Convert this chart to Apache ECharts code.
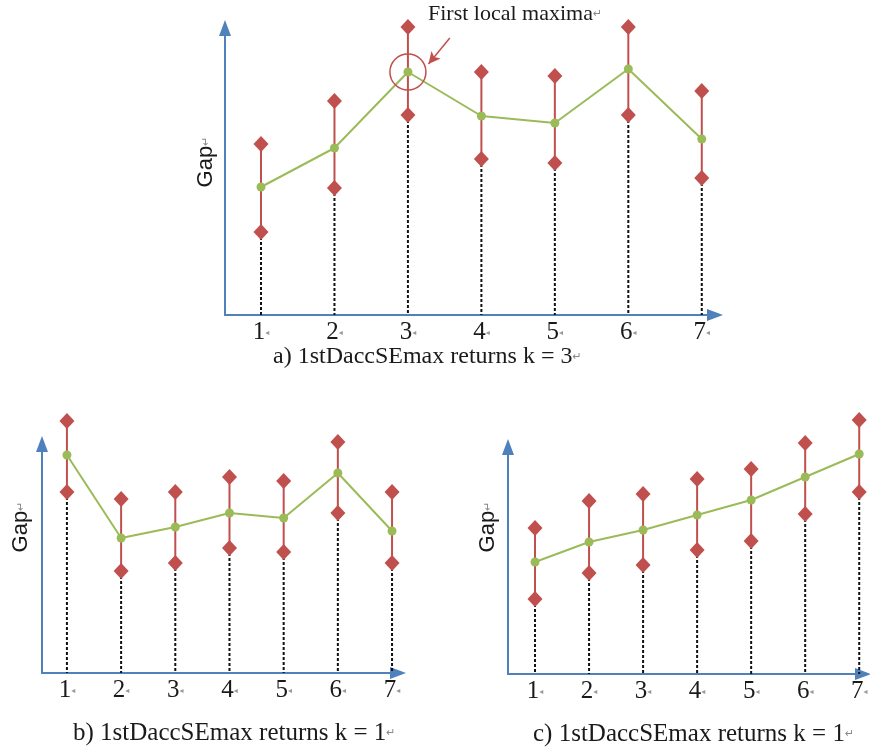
<!DOCTYPE html>
<html>
<head>
<meta charset="utf-8">
<script src="https://cdn.jsdelivr.net/npm/echarts@6/dist/echarts.min.js"></script>
<style>
html, body { margin: 0; padding: 0; background: #fff; }
#main { width: 870px; height: 747px; }
</style>
</head>
<body>
<div id="main"></div>
<script>
// k on the x axis
var kValues = [1, 2, 3, 4, 5, 6, 7];

// a) first local maximum at k = 3
var gapA = [1.28, 1.67, 2.43, 1.99, 1.92, 2.46, 1.76];
var upperA = [1.71, 2.14, 2.88, 2.43, 2.39, 2.88, 2.24];
var lowerA = [0.83, 1.27, 2.00, 1.56, 1.52, 2.00, 1.37];

// b) maximum at k = 1
var gapB = [2.18, 1.35, 1.46, 1.60, 1.55, 2.00, 1.42];
var upperB = [2.52, 1.74, 1.81, 1.96, 1.92, 2.31, 1.81];
var lowerB = [1.81, 1.02, 1.10, 1.25, 1.21, 1.60, 1.10];

// c) increasing gap
var gapC = [1.12, 1.32, 1.44, 1.59, 1.74, 1.97, 2.20];
var upperC = [1.46, 1.73, 1.80, 1.95, 2.05, 2.31, 2.54];
var lowerC = [0.75, 1.01, 1.09, 1.24, 1.33, 1.60, 1.82];

var captions = [
  "a) 1stDaccSEmax returns k = 3",
  "b) 1stDaccSEmax returns k = 1",
  "c) 1stDaccSEmax returns k = 1"
];
var noteText = "First local maxima";
// annotation arrow in data units of chart a
var arrowFrom = [3.57, 2.77];
var arrowTo = [3.28, 2.51];

var blue = "#4F81BD";
var red = "#C0504D";
var green = "#9BBB59";
var serif = "Liberation Serif";

var myChart = echarts.init(document.getElementById("main"));

function xAxisOf(idx, min, max) {
  return {
    type: "value",
    gridIndex: idx,
    min: min,
    max: max,
    splitLine: { show: false },
    axisTick: { show: false },
    axisLine: {
      onZero: false,
      lineStyle: { color: blue, width: 2 },
      symbol: ["none", "triangle"],
      symbolSize: [12, 16]
    },
    axisLabel: {
      customValues: kValues,
      formatter: function(v) {
        return v + "{m|◂}";
      },
      fontFamily: serif,
      fontSize: 25,
      color: "#1a1a1a",
      margin: 5,
      rich: { m: { fontSize: 8, color: "#999", fontFamily: "DejaVu Sans" } }
    }
  };
}

function yAxisOf(idx, max) {
  return {
    type: "value",
    gridIndex: idx,
    min: 0,
    max: max,
    splitLine: { show: false },
    axisTick: { show: false },
    axisLabel: { show: false },
    axisLine: {
      onZero: false,
      lineStyle: { color: blue, width: 2 },
      symbol: ["none", "triangle"],
      symbolSize: [12, 16]
    }
  };
}

function renderBar(params, api) {
  var x = api.value(0);
  var lo = api.coord([x, api.value(1)]);
  var hi = api.coord([x, api.value(2)]);
  var base = api.coord([x, 0]);
  return {
    type: "group",
    children: [
      {
        type: "line",
        shape: { x1: lo[0], y1: lo[1], x2: base[0], y2: base[1] },
        style: { stroke: "#111", lineWidth: 2, lineDash: [3, 2] }
      },
      {
        type: "line",
        shape: { x1: lo[0], y1: lo[1], x2: hi[0], y2: hi[1] },
        style: { stroke: red, lineWidth: 2 }
      }
    ]
  };
}

function seriesOf(idx, gap, upper, lower) {
  var bars = kValues.map(function(k, i) {
    return [k, lower[i], upper[i]];
  });
  var ends = [];
  kValues.forEach(function(k, i) {
    ends.push([k, upper[i]]);
    ends.push([k, lower[i]]);
  });
  return [
    {
      type: "custom",
      xAxisIndex: idx,
      yAxisIndex: idx,
      renderItem: renderBar,
      encode: { x: 0, y: [1, 2] },
      data: bars,
      silent: true
    },
    {
      type: "scatter",
      xAxisIndex: idx,
      yAxisIndex: idx,
      symbol: "diamond",
      symbolSize: [15, 16],
      clip: false,
      itemStyle: { color: red, opacity: 1 },
      data: ends
    },
    {
      type: "line",
      xAxisIndex: idx,
      yAxisIndex: idx,
      symbol: "circle",
      symbolSize: 9,
      clip: false,
      lineStyle: { color: green, width: 2 },
      itemStyle: { color: green },
      data: kValues.map(function(k, i) {
        return [k, gap[i]];
      })
    }
  ];
}

var series = []
  .concat(seriesOf(0, gapA, upperA, lowerA))
  .concat(seriesOf(1, gapB, upperB, lowerB))
  .concat(seriesOf(2, gapC, upperC, lowerC));

// circle and arrow pointing at the first local maximum of chart a
series[2].markPoint = {
  silent: true,
  symbol: "circle",
  symbolSize: 36,
  label: { show: false },
  itemStyle: { color: "rgba(0,0,0,0)", borderColor: red, borderWidth: 1.5 },
  data: [{ coord: [kValues[2], gapA[2]] }]
};
series[2].markLine = {
  silent: true,
  symbol: ["none", "arrow"],
  symbolSize: [9, 12],
  label: { show: false },
  lineStyle: { color: red, width: 1.5, type: "solid" },
  data: [[{ coord: arrowFrom }, { coord: arrowTo }]]
};

var capStyle = {
  fontFamily: serif,
  fontWeight: "normal",
  color: "#1a1a1a",
  rich: { r: { fontFamily: "DejaVu Sans", fontSize: 11, color: "#888" } }
};

var option = {
  backgroundColor: "#ffffff",
  animation: false,
  title: [
    { text: noteText + "{r|↵}", left: 428, top: 3, padding: 0, textStyle: Object.assign({}, capStyle, { fontSize: 22 }) },
    { text: captions[0] + "{r|↵}", left: 273, top: 345, padding: 0, textStyle: Object.assign({}, capStyle, { fontSize: 24 }) },
    { text: captions[1] + "{r|↵}", left: 73, top: 721, padding: 0, textStyle: Object.assign({}, capStyle, { fontSize: 25 }) },
    { text: captions[2] + "{r|↵}", left: 533, top: 722, padding: 0, textStyle: Object.assign({}, capStyle, { fontSize: 25 }) }
  ],
  graphic: [
    { x: 206, y: 162 }, { x: 21, y: 527 }, { x: 488, y: 527 }
  ].map(function(p) {
    return {
      type: "text",
      x: p.x,
      y: p.y,
      rotation: Math.PI / 2,
      style: {
        text: "Gap{r|↵}",
        fontFamily: "Liberation Sans",
        fontSize: 22,
        fill: "#1a1a1a",
        align: "center",
        verticalAlign: "middle",
        rich: { r: { fontFamily: "DejaVu Sans", fontSize: 11, fill: "#888" } }
      }
    };
  }),
  grid: [
    { left: 225, top: 28, width: 490, height: 287, outerBoundsMode: "none" },
    { left: 42, top: 444, width: 356, height: 229, outerBoundsMode: "none" },
    { left: 508, top: 447, width: 355, height: 227, outerBoundsMode: "none" }
  ],
  xAxis: [xAxisOf(0, 0.51, 7.18), xAxisOf(1, 0.54, 7.11), xAxisOf(2, 0.5, 7.07)],
  yAxis: [yAxisOf(0, 2.87), yAxisOf(1, 2.29), yAxisOf(2, 2.27)],
  series: series
};

myChart.setOption(option);
window.onresize = function() {
  myChart.resize();
};
</script>
</body>
</html>
